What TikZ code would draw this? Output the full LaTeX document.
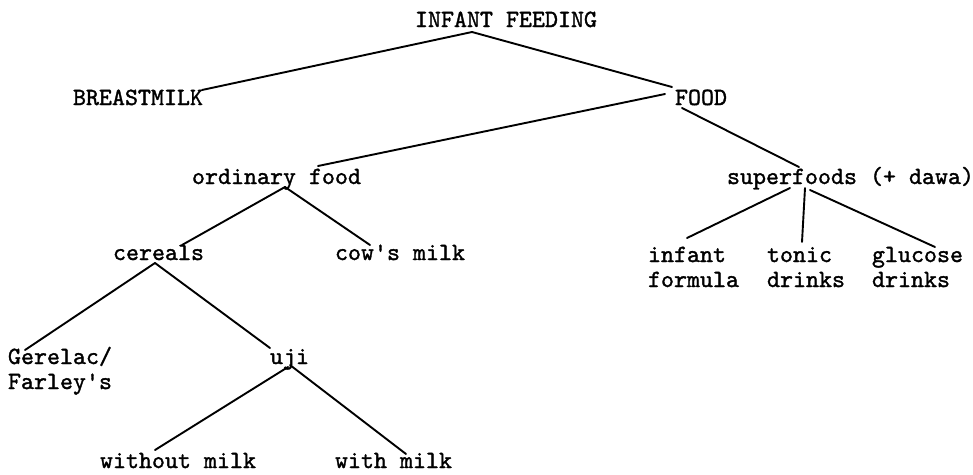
\documentclass[tikz,border=0pt]{standalone}
\usepackage{fontspec}
\usetikzlibrary{calc}

% typewriter face, slightly heavier than the regular weight
\newfontfamily\typewriter{lmmono10-regular.otf}[FakeBold=1.3]

\tikzset{
  lbl/.style={anchor=base west, inner sep=0pt, outer sep=0pt,
    font=\typewriter\fontsize{24.76pt}{25pt}\selectfont},
  branch/.style={line width=1.9pt, line cap=round}
}

\begin{document}
\begin{tikzpicture}[x=1pt, y=-1pt]
\useasboundingbox (0,0) rectangle (973,474);

% labels, placed at the left end of their baselines
\node[lbl] (root)     at (415,27)  {INFANT FEEDING};
\node[lbl] (breast)   at (73,105)  {BREASTMILK};
\node[lbl] (food)     at (675,105) {FOOD};
\node[lbl] (ordinary) at (192,184) {ordinary food};
\node[lbl] (super)    at (727,184) {superfoods (+ dawa)};
\node[lbl] (cereals)  at (113,260) {cereals};
\node[lbl] (cows)     at (335,260) {cow's milk};
\node[lbl] (infant)   at (648,262) {infant};
\node[lbl] (infantB)  at (648,287) {formula};
\node[lbl] (tonic)    at (767,262) {tonic};
\node[lbl] (tonicB)   at (767,287) {drinks};
\node[lbl] (glucose)  at (872,262) {glucose};
\node[lbl] (glucoseB) at (872,287) {drinks};
\node[lbl] (gerelac)  at (8,364)   {Gerelac/};
\node[lbl] (gerelacB) at (8,389)   {Farley's};
\node[lbl] (uji)      at (270,364) {uji};
\node[lbl] (without)  at (100,468) {without milk};
\node[lbl] (with)     at (335,468) {with milk};

% branches of the tree
\draw[branch] ($(root.base west)+(57,5)$)      -- ($(breast.base west)+(129,-15)$);
\draw[branch] ($(root.base west)+(57,5)$)      -- ($(food.base west)+(-3,-18)$);
\draw[branch] ($(food.base west)+(-10,-11)$)   -- ($(ordinary.base west)+(126,-18)$);
\draw[branch] ($(food.base west)+(7,3)$)       -- ($(super.base west)+(72,-17)$);

\draw[branch] ($(ordinary.base west)+(93,3)$)  -- ($(cereals.base west)+(69,-15)$);
\draw[branch] ($(ordinary.base west)+(93,3)$)  -- ($(cows.base west)+(35,-15)$);

\draw[branch] ($(super.base west)+(63,4)$)     -- ($(infant.base west)+(39,-24)$);
\draw[branch] ($(super.base west)+(78,4)$)     -- ($(tonic.base west)+(35,-20)$);
\draw[branch] ($(super.base west)+(83,6)$)     -- ($(glucose.base west)+(63,-15)$);

\draw[branch] ($(cereals.base west)+(42,3)$)   -- ($(gerelac.base west)+(17,-14)$);
\draw[branch] ($(cereals.base west)+(42,3)$)   -- ($(uji.base west)+(0,-16)$);

\draw[branch] ($(uji.base west)+(18,3)$)       -- ($(without.base west)+(55,-18)$);
\draw[branch] ($(uji.base west)+(20,1)$)       -- ($(with.base west)+(71,-14)$);
\end{tikzpicture}
\end{document}
